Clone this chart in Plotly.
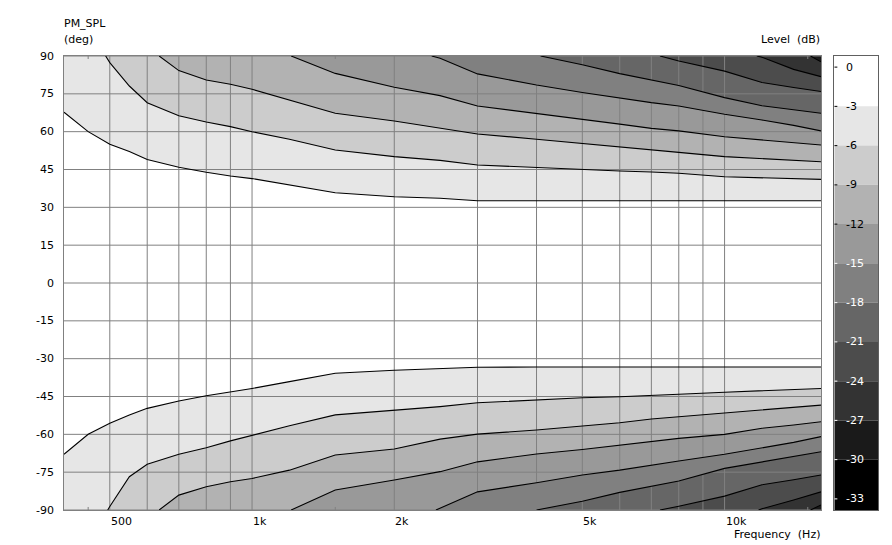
import math
import plotly.graph_objects as go

# ---------------- data ----------------
FREQ_HZ = [400, 450, 500, 550, 600, 700, 800, 900, 1000, 1200, 1500, 2000, 2500,
           3000, 4000, 5000, 6000, 7000, 8000, 10000, 12000, 14000, 16000]
N = None

LEVELS_DB = [-3, -6, -9, -12, -15, -18, -21, -24, -27]

# frequency at which each contour leaves the +90 / -90 edge (None = enters from the left edge)
UPPER_EDGE_HZ = [None, 490, 636, 1210, 2400, 4080, 7300, 11700, 15200]
LOWER_EDGE_HZ = [None, 495, 636, 1210, 2450, 4000, 7300, 11800, 15200]

# upper-half contour angles (deg) at FREQ_HZ
UP_M3 = [67.7, 60.0, 55.0, 52.1, 49.0, 45.9, 43.9, 42.4, 41.4, 39.0, 35.8, 34.2, 33.6,
         32.6, 32.6, 32.8, 32.6, 32.6, 32.6, 32.6, 32.6, 32.7, 32.6]
UP_M6 = [N, N, 87.4, 78.1, 71.5, 66.3, 63.8, 62.0, 60.0, 57.0, 52.7, 50.1, 48.6,
         46.8, 45.7, 45.1, 44.4, 44.0, 43.5, 42.1, 41.8, 41.4, 41.1]
UP_M9 = [N, N, N, N, N, 84.2, 80.5, 78.8, 76.8, 72.6, 67.3, 64.2, 61.3,
         59.1, 57.0, 55.4, 54.0, 52.7, 51.8, 50.1, 49.3, 48.7, 48.1]
UP_M12 = [N, N, N, N, N, N, N, N, N, N, 83.1, 77.6, 74.3,
          70.2, 67.3, 64.9, 63.0, 61.3, 60.3, 58.0, 56.7, 55.6, 54.7]
UP_M15 = [N, N, N, N, N, N, N, N, N, N, N, N, 89.1,
          82.9, 78.5, 75.5, 73.2, 71.5, 70.2, 66.9, 64.6, 62.5, 60.3]
UP_M18 = [N, N, N, N, N, N, N, N, N, N, N, N, N,
          N, N, 86.5, 83.0, 80.5, 78.3, 73.5, 70.3, 68.7, 67.3]
UP_M21 = [N, N, N, N, N, N, N, N, N, N, N, N, N,
          N, N, N, N, N, 88.0, 84.0, 79.5, 77.5, 75.9]
UP_M24 = [N, N, N, N, N, N, N, N, N, N, N, N, N,
          N, N, N, N, N, N, N, 89.5, 84.7, 81.8]
UP_M27 = [N, N, N, N, N, N, N, N, N, N, N, N, N,
          N, N, N, N, N, N, N, N, N, 87.7]

# lower-half contour angles (deg) at FREQ_HZ
LO_M3 = [-67.9, -60.0, -55.6, -52.3, -49.7, -46.8, -44.7, -43.3, -41.8, -39.1, -35.8, -34.6, -33.8,
         -33.4, -33.3, -33.3, -33.3, -33.3, -33.3, -33.3, -33.3, -33.3, -33.3]
LO_M6 = [N, N, -88.6, -76.8, -71.9, -67.9, -65.3, -62.6, -60.3, -56.6, -52.3, -50.6, -49.0,
         -47.5, -46.4, -45.5, -45.1, -44.7, -44.1, -43.3, -42.8, -42.3, -41.8]
LO_M9 = [N, N, N, N, N, -84.1, -80.8, -78.8, -77.5, -74.2, -68.2, -65.8, -61.9,
         -59.9, -58.3, -56.6, -55.4, -53.9, -53.0, -51.7, -50.4, -49.4, -48.4]
LO_M12 = [N, N, N, N, N, N, N, N, N, N, -82.1, -78.1, -74.8,
          -70.9, -67.8, -66.0, -64.2, -62.7, -61.6, -60.0, -57.6, -56.3, -55.0]
LO_M15 = [N, N, N, N, N, N, N, N, N, N, N, N, -89.3,
          -82.8, -79.2, -76.1, -74.2, -72.2, -70.6, -67.9, -65.5, -63.2, -60.9]
LO_M18 = [N, N, N, N, N, N, N, N, N, N, N, N, N,
          N, N, -86.5, -83.0, -80.5, -78.5, -73.5, -71.0, -69.0, -66.9]
LO_M21 = [N, N, N, N, N, N, N, N, N, N, N, N, N,
          N, N, N, N, N, -88.5, -84.5, -80.0, -78.0, -76.1]
LO_M24 = [N, N, N, N, N, N, N, N, N, N, N, N, N,
          N, N, N, N, N, N, N, -89.5, -86.0, -82.8]
LO_M27 = [N, N, N, N, N, N, N, N, N, N, N, N, N,
          N, N, N, N, N, N, N, N, N, -88.0]

UPPER = [UP_M3, UP_M6, UP_M9, UP_M12, UP_M15, UP_M18, UP_M21, UP_M24, UP_M27]
LOWER = [LO_M3, LO_M6, LO_M9, LO_M12, LO_M15, LO_M18, LO_M21, LO_M24, LO_M27]

# axes / ticks
X_RANGE_HZ = [400, 16000]
Y_RANGE_DEG = [-90, 90]
X_GRID_HZ = [500, 600, 700, 800, 900, 1000, 2000, 3000, 4000, 5000, 6000, 7000,
             8000, 9000, 10000]
X_MINOR_HZ = [450, 1500, 15000]
X_TICK_HZ = [500, 1000, 2000, 5000, 10000]
X_TICK_TEXT = ["500", "1k", "2k", "5k", "10k"]
Y_TICKS_DEG = [90, 75, 60, 45, 30, 15, 0, -15, -30, -45, -60, -75, -90]

# colour bar
CBAR_TICKS_DB = [0, -3, -6, -9, -12, -15, -18, -21, -24, -27, -30, -33]
CBAR_BAND_EDGES_DB = [0, -3, -6, -9, -12, -15, -18, -21, -24, -27, -30]
CBAR_RANGE_DB = [-33.85, 0.85]

FONT = "DejaVu Sans"
GRID = "#808080"


def grey(k):
    v = int(round(255 - 25.5 * k))
    v = max(0, min(255, v))
    return "rgb({0},{0},{0})".format(v)


def contour_xy(edge_hz, vals, edge_deg):
    xs, ys = [], []
    if edge_hz is not None:
        xs.append(edge_hz)
        ys.append(edge_deg)
    for f, a in zip(FREQ_HZ, vals):
        if a is not None:
            xs.append(f)
            ys.append(a)
    return xs, ys


fig = go.Figure()

# filled bands (darker bands painted over lighter ones)
for half, edges, edge_deg in ((UPPER, UPPER_EDGE_HZ, Y_RANGE_DEG[1]),
                              (LOWER, LOWER_EDGE_HZ, Y_RANGE_DEG[0])):
    for k, (vals, eh) in enumerate(zip(half, edges), start=1):
        xs, ys = contour_xy(eh, vals, edge_deg)
        px = xs + [X_RANGE_HZ[1], xs[0]]
        py = ys + [edge_deg, edge_deg]
        fig.add_trace(go.Scatter(x=px, y=py, mode="lines", fill="toself",
                                 fillcolor=grey(k), line=dict(width=0),
                                 hoverinfo="skip", showlegend=False))

# grid lines (drawn above the fills)
gx, gy = [], []
for f in X_GRID_HZ:
    gx += [f, f, None]
    gy += [Y_RANGE_DEG[0], Y_RANGE_DEG[1], None]
for a in Y_TICKS_DEG:
    gx += [X_RANGE_HZ[0], X_RANGE_HZ[1], None]
    gy += [a, a, None]
fig.add_trace(go.Scatter(x=gx, y=gy, mode="lines", line=dict(color=GRID, width=1),
                         hoverinfo="skip", showlegend=False))

# minor tick marks on the top/bottom edges
mx, my = [], []
for f in X_MINOR_HZ:
    mx += [f, f, None, f, f, None]
    my += [Y_RANGE_DEG[1], Y_RANGE_DEG[1] - 1.2, None, Y_RANGE_DEG[0], Y_RANGE_DEG[0] + 1.2, None]
fig.add_trace(go.Scatter(x=mx, y=my, mode="lines", line=dict(color=GRID, width=1),
                         hoverinfo="skip", showlegend=False))

# contour lines
for half, edges, edge_deg in ((UPPER, UPPER_EDGE_HZ, Y_RANGE_DEG[1]),
                              (LOWER, LOWER_EDGE_HZ, Y_RANGE_DEG[0])):
    for vals, eh in zip(half, edges):
        xs, ys = contour_xy(eh, vals, edge_deg)
        fig.add_trace(go.Scatter(x=xs, y=ys, mode="lines",
                                 line=dict(color="black", width=1.1),
                                 hoverinfo="skip", showlegend=False))

# colour bar as its own subplot
for k, hi in enumerate(CBAR_BAND_EDGES_DB):
    top = CBAR_RANGE_DB[1] if k == 0 else hi
    lo = hi - 3 if k < len(CBAR_BAND_EDGES_DB) - 1 else CBAR_RANGE_DB[0]
    fig.add_trace(go.Bar(x=[0.5], y=[top - lo], base=[lo], width=1,
                         marker=dict(color=grey(k), line=dict(width=0)),
                         xaxis="x2", yaxis="y2", hoverinfo="skip", showlegend=False))

ann = []
for t in CBAR_TICKS_DB:
    col = "black" if t >= -12 else "white"
    fig.add_trace(go.Scatter(x=[0, 0.07], y=[t, t], mode="lines",
                             line=dict(color=col, width=1),
                             xaxis="x2", yaxis="y2", hoverinfo="skip", showlegend=False))
    ann.append(dict(x=0.22, y=t, xref="x2", yref="y2", text=str(t), showarrow=False,
                    xanchor="left", yanchor="middle", font=dict(family=FONT, size=11, color=col)))

for f, txt in zip(X_TICK_HZ, X_TICK_TEXT):
    ann.append(dict(x=math.log10(f), y=0, xref="x", yref="paper", text=txt, showarrow=False,
                    xanchor="left", yanchor="middle", yshift=-11, xshift=-1,
                    font=dict(family=FONT, size=11, color="black")))

for a in Y_TICKS_DEG:
    ann.append(dict(x=0, y=a, xref="paper", yref="y", text=str(a), showarrow=False,
                    xanchor="right", yanchor="middle", xshift=-8,
                    font=dict(family=FONT, size=11, color="black")))

ann += [
    dict(x=0, y=1, xref="paper", yref="paper", text="PM_SPL", showarrow=False,
         xanchor="left", yanchor="middle", yshift=33, xshift=-2,
         font=dict(family=FONT, size=11, color="black")),
    dict(x=0, y=1, xref="paper", yref="paper", text="(deg)", showarrow=False,
         xanchor="left", yanchor="middle", yshift=17, xshift=-2,
         font=dict(family=FONT, size=11, color="black")),
    dict(x=0.93, y=1, xref="paper", yref="paper", text="Level\u00a0 (dB)", showarrow=False,
         xanchor="right", yanchor="middle", yshift=17, xshift=1,
         font=dict(family=FONT, size=11, color="black")),
    dict(x=0.93, y=0, xref="paper", yref="paper", text="Frequency\u00a0 (Hz)", showarrow=False,
         xanchor="right", yanchor="middle", yshift=-24, xshift=1,
         font=dict(family=FONT, size=11, color="black")),
]

# the page body has an 8 px margin, so the figure is sized to fit the window
fig.update_layout(
    width=884, height=537,
    margin=dict(l=56, r=14, t=48, b=35),
    paper_bgcolor="white", plot_bgcolor="white",
    showlegend=False, barmode="overlay",
    xaxis=dict(type="log", range=[math.log10(X_RANGE_HZ[0]), math.log10(X_RANGE_HZ[1])],
               domain=[0, 0.93], showgrid=False, zeroline=False, showticklabels=False,
               ticks="", showline=True, mirror=True, linecolor=GRID, linewidth=1,
               layer="above traces", fixedrange=True),
    yaxis=dict(range=Y_RANGE_DEG, showgrid=False, zeroline=False, showticklabels=False,
               ticks="", showline=True, mirror=True, linecolor=GRID, linewidth=1,
               layer="above traces", fixedrange=True),
    xaxis2=dict(domain=[0.9463, 1], range=[0, 1], anchor="y2", showgrid=False, zeroline=False,
                showticklabels=False, ticks="", showline=True, mirror=True,
                linecolor="#606060", linewidth=1, layer="above traces", fixedrange=True),
    yaxis2=dict(domain=[0, 1], range=CBAR_RANGE_DB, anchor="x2", showgrid=False, zeroline=False,
                showticklabels=False, ticks="", showline=True, mirror=True,
                linecolor="#606060", linewidth=1, layer="above traces", fixedrange=True),
    annotations=ann,
)

fig.write_html("out.html")
